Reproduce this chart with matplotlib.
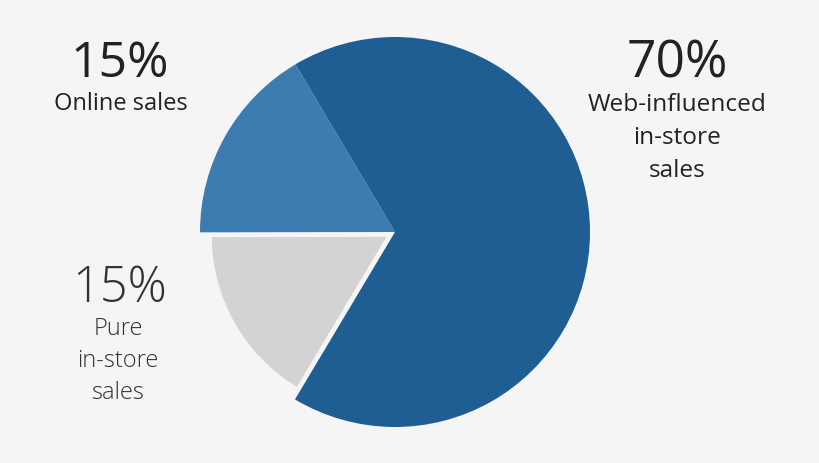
import numpy as np
import matplotlib.pyplot as plt

# slice shares as drawn (counter-clockwise from the top-left edge)
segments = ["Online sales", "Pure in-store sales", "Web-influenced in-store sales"]
shares = [16.5, 16.4, 67.1]
colors = ["#3d7cb1", "#d3d3d3", "#1f5e93"]

pct_labels = ["15%", "15%", "70%"]
text_labels = [["Online sales"], ["Pure", "in-store", "sales"],
               ["Web-influenced", "in-store", "sales"]]

bg = "#f5f5f5"
H = 464
R = 195
# explode is given in data units when a radius is set, so scale by R
explode = [0, 0.04 * R, 0]

fig = plt.figure(figsize=(8.2, 4.64), dpi=100)
fig.patch.set_facecolor(bg)
ax = fig.add_axes([0, 0, 1, 1])
ax.set_facecolor(bg)

wedges, _ = ax.pie(shares, colors=colors, explode=explode, startangle=120.7,
                   center=(395, H - 233), radius=R, frame=True,
                   wedgeprops=dict(linewidth=0))
# the grey slice sits pulled out and a bit smaller than the others
wedges[1].set_radius(0.91 * R)
wedges[1].set_edgecolor(bg)
wedges[1].set_linewidth(1.5)

ax.set_xlim(0, 820)
ax.set_ylim(0, H)
ax.set_aspect("equal")
ax.axis("off")

font = "Open Sans"
ink = "#222222"

# top-left label
ax.text(120, H - 77, pct_labels[0], ha="center", va="baseline", fontsize=36,
        family=font, color=ink)
ax.text(121, H - 110, text_labels[0][0], ha="center", va="baseline", fontsize=17,
        family=font, color=ink)

# bottom-left label (lighter)
ax.text(120, H - 302, pct_labels[1], ha="center", va="baseline", fontsize=35,
        family=font, color="#333333", fontweight="light")
for i, line in enumerate(text_labels[1]):
    ax.text(118, H - 335 - 32 * i, line, ha="center", va="baseline", fontsize=17,
            family=font, color="#333333", fontweight="light")

# right label
ax.text(677, H - 77, pct_labels[2], ha="center", va="baseline", fontsize=37,
        family=font, color=ink)
for i, line in enumerate(text_labels[2]):
    ax.text(677, H - 111 - 33 * i, line, ha="center", va="baseline", fontsize=17.6,
            family=font, color=ink)

fig.savefig("out.png", dpi=100, facecolor=bg)
